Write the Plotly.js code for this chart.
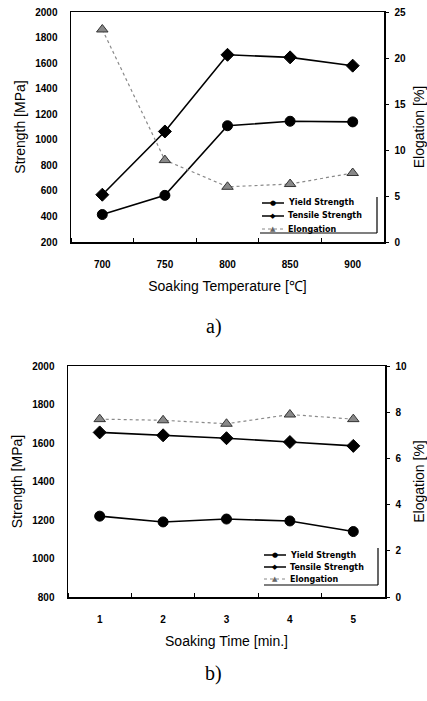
<!DOCTYPE html>
<html><head><meta charset="utf-8">
<script src="https://cdn.plot.ly/plotly-3.0.1.min.js"></script>
<style>html,body{margin:0;padding:0;background:#fff}#c{width:427px;height:701px}</style>
</head><body><div id="c"></div>
<script>
// (a) Soaking temperature
const tempC = [700, 750, 800, 850, 900];
const yieldA = [415, 565, 1110, 1145, 1140];
const tensileA = [570, 1065, 1665, 1645, 1580];
const elongA = [23.1, 8.9, 6.0, 6.3, 7.5];
// (b) Soaking time
const timeMin = [1, 2, 3, 4, 5];
const yieldB = [1220, 1190, 1205, 1195, 1140];
const tensileB = [1655, 1640, 1625, 1605, 1585];
const elongB = [7.7, 7.65, 7.5, 7.9, 7.7];
// legend entries
const seriesNames = ['Yield Strength', 'Tensile Strength', 'Elongation'];
const seriesGlyphs = ['\u25CF', '\u25C6', '\u25B2'];

const F = '"Liberation Sans", Arial, sans-serif';
const tickFont = {family: F, size: 10, color: '#000', weight: 'bold'};
const titleFont = {family: F, size: 14, color: '#000'};

function mk(x, y, name, sym, size, col, dash, xa, ya) {
  const isTri = sym === 'triangle-up';
  return {x: x, y: y, name: name, type: 'scatter', mode: 'lines+markers',
    xaxis: xa, yaxis: ya, showlegend: false,
    line: {color: isTri ? '#8a8a8a' : col, width: isTri ? 1.2 : 1.6, dash: dash},
    marker: {symbol: sym, size: size, color: col, line: {color: isTri ? '#333' : col, width: 1}}};
}

const data = [
  mk(tempC, yieldA, seriesNames[0], 'circle', 10, '#000', 'solid', 'x', 'y'),
  mk(tempC, tensileA, seriesNames[1], 'diamond', 10, '#000', 'solid', 'x', 'y'),
  mk(tempC, elongA, seriesNames[2], 'triangle-up', 10, '#888', 'dot', 'x', 'y2'),
  mk(timeMin, yieldB, seriesNames[0], 'circle', 10, '#000', 'solid', 'x2', 'y3'),
  mk(timeMin, tensileB, seriesNames[1], 'diamond', 10, '#000', 'solid', 'x2', 'y3'),
  mk(timeMin, elongB, seriesNames[2], 'triangle-up', 10, '#888', 'dot', 'x2', 'y4')
];

const axBase = {showgrid: false, zeroline: false, showline: true, linecolor: '#000', linewidth: 1.5, mirror: true, tickfont: tickFont};

const W = 427, H = 701;
const px = v => v / W, py = v => 1 - v / H;

const shapes = [];
const annotations = [
  {text: 'a)', xref: 'paper', yref: 'paper', x: 0.5, y: py(327), showarrow: false, font: {family: '"Liberation Serif", serif', size: 20, color: '#000'}},
  {text: 'b)', xref: 'paper', yref: 'paper', x: 0.5, y: py(687), showarrow: false, font: {family: '"Liberation Serif", serif', size: 20, color: '#000'}}
];

function addLegend(x0, rows, boxTop, boxBottom, boxLeft, boxRight) {
  rows.forEach((ry, i) => {
    const gray = i === 2;
    shapes.push({type: 'line', xref: 'paper', yref: 'paper', x0: px(x0), x1: px(x0 + 22), y0: py(ry), y1: py(ry),
      line: {color: gray ? '#888' : '#000', width: gray ? 1 : 1.5, dash: gray ? 'dot' : 'solid'}});
    annotations.push({text: seriesGlyphs[i], xref: 'paper', yref: 'paper', x: px(x0 + 11), y: py(ry), xanchor: 'center', yanchor: 'middle',
      showarrow: false, font: {family: '"DejaVu Sans", sans-serif', size: i === 2 ? 7 : 7, color: gray ? '#666' : '#000'}});
    annotations.push({text: seriesNames[i], xref: 'paper', yref: 'paper', x: px(x0 + 24), y: py(ry), xanchor: 'left', yanchor: 'middle',
      showarrow: false, font: {family: '"DejaVu Sans", sans-serif', size: 8, color: '#000', weight: 'bold'}});
  });
  shapes.push({type: 'line', xref: 'paper', yref: 'paper', x0: px(boxRight), x1: px(boxRight), y0: py(boxTop), y1: py(boxBottom), line: {color: '#000', width: 1.2}});
  shapes.push({type: 'line', xref: 'paper', yref: 'paper', x0: px(boxLeft), x1: px(boxRight), y0: py(boxBottom), y1: py(boxBottom), line: {color: '#000', width: 1.2}});
}
addLegend(262, [203, 216, 229], 197, 233, 260, 377);
addLegend(264, [555, 567, 579], 548, 585, 264, 378);

const layout = {
  width: W, height: H, margin: {l: 0, r: 0, t: 0, b: 0},
  paper_bgcolor: '#fff', plot_bgcolor: '#fff', showlegend: false,
  xaxis: Object.assign({}, axBase, {domain: [px(71), px(384)], anchor: 'y', range: [675, 925], tickvals: tempC, ticks: '', ticklabelstandoff: 12,
    minor: {tick0: 725, dtick: 50, ticks: 'inside', ticklen: 4, tickcolor: '#000'},
    title: {text: 'Soaking Temperature [\u2103]', font: titleFont, standoff: 12}}),
  yaxis: Object.assign({}, axBase, {domain: [py(242), py(12)], anchor: 'x', range: [200, 2000], dtick: 200, ticks: '', ticklabelstandoff: 10,
    title: {text: 'Strength [MPa]', font: titleFont, standoff: 6}}),
  yaxis2: Object.assign({}, axBase, {overlaying: 'y', side: 'right', anchor: 'x', range: [0, 25], dtick: 5, ticks: 'outside', ticklen: 3, tickcolor: '#000', ticklabelstandoff: 4,
    title: {text: 'Elogation [%]', font: titleFont, standoff: 10}}),
  xaxis2: Object.assign({}, axBase, {domain: [px(68), px(385)], anchor: 'y3', range: [0.5, 5.5], tickvals: timeMin, ticks: '', ticklabelstandoff: 12,
    minor: {tick0: 1.5, dtick: 1, ticks: 'inside', ticklen: 4, tickcolor: '#000'},
    title: {text: 'Soaking Time [min.]', font: titleFont, standoff: 12}}),
  yaxis3: Object.assign({}, axBase, {domain: [py(597), py(366)], anchor: 'x2', range: [800, 2000], dtick: 200, ticks: '', ticklabelstandoff: 10,
    title: {text: 'Strength [MPa]', font: titleFont, standoff: 6}}),
  yaxis4: Object.assign({}, axBase, {overlaying: 'y3', side: 'right', anchor: 'x2', range: [0, 10], dtick: 2, ticks: 'outside', ticklen: 3, tickcolor: '#000', ticklabelstandoff: 4,
    title: {text: 'Elogation [%]', font: titleFont, standoff: 10}}),
  shapes: shapes,
  annotations: annotations
};

Plotly.newPlot('c', data, layout, {displayModeBar: false, staticPlot: true});
</script>
</body></html>
